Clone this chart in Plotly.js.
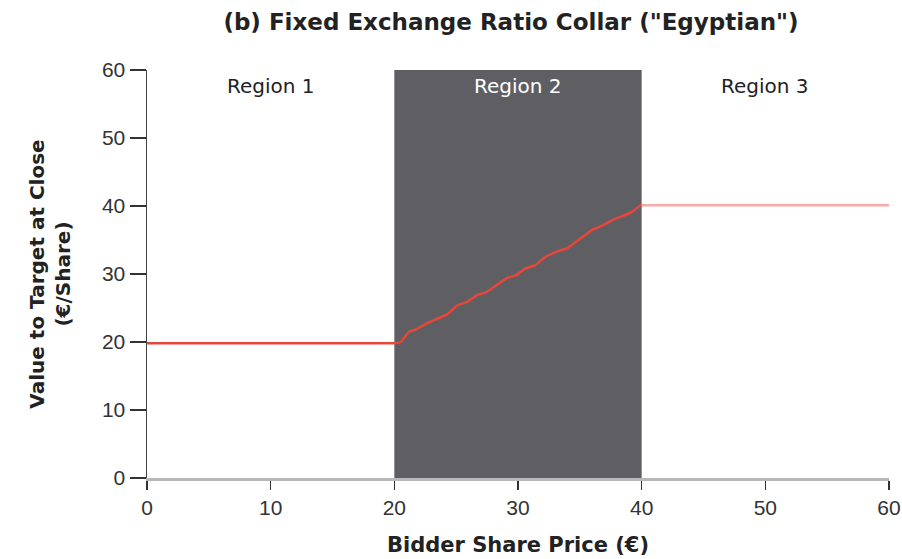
<!DOCTYPE html>
<html>
<head>
<meta charset="utf-8">
<script src="https://cdn.plot.ly/plotly-3.0.1.min.js"></script>
<style>body{margin:0;background:#fff;}#chart{width:902px;height:559px;}</style>
</head>
<body>
<div id="chart"></div>
<script>
// Region 1 (flat), Region 2 (rising), Region 3 (flat)
const region1X = [0, 20];
const region1Y = [19.8, 19.8];
const region2X = [20, 20.5, 21.2, 21.7, 22.7, 24.3, 25.1, 25.9, 26.7, 27.4, 29.1, 29.8, 30.6, 31.4, 32.2, 33.3, 34.0, 36.0, 36.8, 37.6, 39.2, 39.9, 40];
const region2Y = [19.8, 20.0, 21.5, 21.8, 22.8, 24.1, 25.4, 25.9, 26.9, 27.3, 29.4, 29.8, 30.8, 31.3, 32.5, 33.4, 33.8, 36.5, 37.1, 37.9, 39.1, 40.1, 40.1];
const region3X = [40, 60];
const region3Y = [40.1, 40.1];
const regionNames = ["Region 1", "Region 2", "Region 3"];
const regionCenters = [10, 30, 50];
const shadedRange = [20, 40];
const xTicks = [0, 10, 20, 30, 40, 50, 60];
const yTicks = [0, 10, 20, 30, 40, 50, 60];

const boldFam = "'DejaVu Sans', sans-serif";
const textFam = "'DejaVu Sans', sans-serif";
const tickFam = "'Liberation Sans', Arial, sans-serif";

const traces = [
  {x: region1X, y: region1Y, mode: 'lines', line: {color: '#e8463a', width: 2.5}, hoverinfo: 'none'},
  {x: region2X, y: region2Y, mode: 'lines', line: {color: '#e8463a', width: 2.5, shape: 'spline', smoothing: 0.4}, hoverinfo: 'none'},
  {x: region3X, y: region3Y, mode: 'lines', line: {color: '#f6aaa5', width: 2.5}, hoverinfo: 'none'}
];

const annotations = regionNames.map((t, i) => ({
  x: regionCenters[i], y: 57.6, xref: 'x', yref: 'y', text: t, showarrow: false,
  font: {family: textFam, size: 20, color: i === 1 ? '#ffffff' : '#222222'}
}));

const layout = {
  width: 902, height: 559,
  margin: {l: 147, r: 13, t: 70, b: 81},
  paper_bgcolor: '#ffffff', plot_bgcolor: '#ffffff',
  showlegend: false,
  title: {text: '<b>(b) Fixed Exchange Ratio Collar ("Egyptian")</b>', x: 0.5665, xanchor: 'center', y: 0.961, yanchor: 'middle',
          font: {family: boldFam, size: 23, color: '#222222'}},
  xaxis: {range: [0, 60], tickvals: xTicks, ticktext: xTicks.map(String), showgrid: false, zeroline: false,
          showline: true, linecolor: '#b8b8b8', linewidth: 3, ticks: 'outside', ticklen: 9, tickcolor: '#333333', tickwidth: 1.5,
          ticklabeloverflow: 'allow',
          tickfont: {family: tickFam, size: 21, color: '#333333'},
          title: {text: '<b>Bidder Share Price (€)</b>', font: {family: boldFam, size: 21, color: '#222222'}, standoff: 20}},
  yaxis: {range: [0, 60], tickvals: yTicks, ticktext: yTicks.map(String), showgrid: false, zeroline: false,
          showline: true, linecolor: '#444444', linewidth: 1.5, ticks: 'outside', ticklen: 16, tickcolor: '#333333', tickwidth: 1.5,
          tickfont: {family: tickFam, size: 21, color: '#333333'},
          title: {text: '<b>Value to Target at Close<br>(€/Share)</b>', font: {family: boldFam, size: 20, color: '#222222'}, standoff: 26}},
  shapes: [{type: 'rect', xref: 'x', yref: 'y', x0: shadedRange[0], x1: shadedRange[1], y0: 0, y1: 60,
            fillcolor: '#5f5f63', line: {width: 0}, layer: 'below'}],
  annotations: annotations
};

Plotly.newPlot('chart', traces, layout, {displayModeBar: false, staticPlot: true});
</script>
</body>
</html>
